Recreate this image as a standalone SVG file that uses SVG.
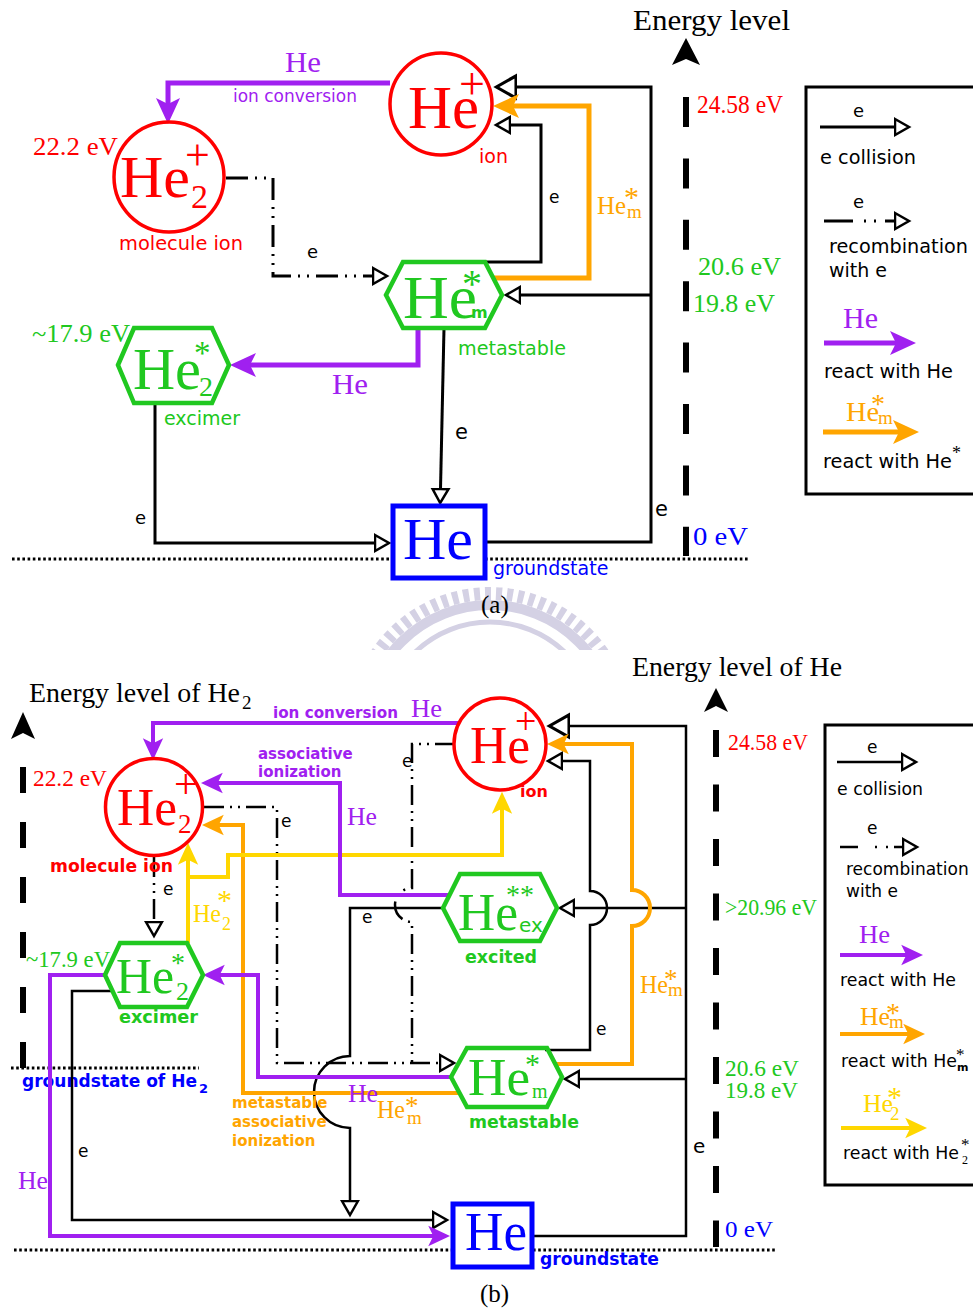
<svg xmlns="http://www.w3.org/2000/svg" width="973" height="1310" viewBox="0 0 973 1310">
<style>
.s{font-family:"Liberation Serif","Times New Roman",serif}
.d{font-family:"DejaVu Sans","Liberation Sans",sans-serif}
.b{font-weight:bold}
.red{fill:#ff0000}.grn{fill:#20c820}.blu{fill:#0000ff}.pur{fill:#a020f0}.org{fill:#ffa500}.yel{fill:#ffd700}.blk{fill:#000}
.k{fill:none;stroke:#000;stroke-width:3}
.kb{fill:none;stroke:#000;stroke-width:2.5}
.kd{fill:none;stroke:#000;stroke-width:3;stroke-dasharray:22 7 2 7 2 7}
.kbd{fill:none;stroke:#000;stroke-width:2.5;stroke-dasharray:20 6 2 6 2 6}
.pu{fill:none;stroke:#a020f0;stroke-width:5}
.or{fill:none;stroke:#ffa500;stroke-width:5}
.pub{fill:none;stroke:#a020f0;stroke-width:4}
.orb{fill:none;stroke:#ffa500;stroke-width:4}
.yeb{fill:none;stroke:#ffd700;stroke-width:4}
.hexg{fill:none;stroke:#20c820;stroke-width:4.5}
.cir{fill:none;stroke:#ff0000;stroke-width:3.5}
.sq{fill:none;stroke:#0000ff;stroke-width:5}
.dot{fill:none;stroke:#000;stroke-width:3;stroke-dasharray:2.6 2.6}
.axis{fill:none;stroke:#000;stroke-width:6}
.box{fill:none;stroke:#000;stroke-width:3}
</style>
<defs>
<clipPath id="wmclip"><rect x="0" y="580" width="973" height="70"/></clipPath>
<marker id="ot" viewBox="0 0 20 20" refX="1" refY="10" markerWidth="20" markerHeight="20" markerUnits="userSpaceOnUse" orient="auto">
<path d="M1,2 L15,10 L1,18 Z" fill="#fff" stroke="#000" stroke-width="2.5"/>
</marker>
<marker id="otB" viewBox="0 0 20 20" refX="1" refY="10" markerWidth="28" markerHeight="28" markerUnits="userSpaceOnUse" orient="auto">
<path d="M1,2 L15,10 L1,18 Z" fill="#fff" stroke="#000" stroke-width="2.2"/>
</marker>
<marker id="mpa" viewBox="0 0 26 26" refX="8" refY="13" markerWidth="26" markerHeight="26" markerUnits="userSpaceOnUse" orient="auto">
<path d="M26,13 L0,1 L6,13 L0,25 Z" fill="#a020f0"/>
</marker>
<marker id="moa" viewBox="0 0 26 26" refX="8" refY="13" markerWidth="26" markerHeight="26" markerUnits="userSpaceOnUse" orient="auto">
<path d="M26,13 L0,1 L6,13 L0,25 Z" fill="#ffa500"/>
</marker>
<marker id="mpb" viewBox="0 0 26 26" refX="8" refY="13" markerWidth="22" markerHeight="22" markerUnits="userSpaceOnUse" orient="auto">
<path d="M26,13 L0,1 L6,13 L0,25 Z" fill="#a020f0"/>
</marker>
<marker id="mob" viewBox="0 0 26 26" refX="8" refY="13" markerWidth="22" markerHeight="22" markerUnits="userSpaceOnUse" orient="auto">
<path d="M26,13 L0,1 L6,13 L0,25 Z" fill="#ffa500"/>
</marker>
<marker id="myb" viewBox="0 0 26 26" refX="8" refY="13" markerWidth="22" markerHeight="22" markerUnits="userSpaceOnUse" orient="auto">
<path d="M26,13 L0,1 L6,13 L0,25 Z" fill="#ffd700"/>
</marker>
</defs>
<rect x="0" y="0" width="973" height="1310" fill="#fff"/>

<!-- faint watermark -->
<g id="watermark" clip-path="url(#wmclip)" fill="none" stroke="#d4d1e4">
<circle cx="490" cy="730" r="136.5" stroke-width="13" stroke-dasharray="6 5"/>
<circle cx="490" cy="730" r="125" stroke-width="10"/>
<circle cx="490" cy="730" r="108" stroke-width="5"/>
</g>

<!-- ================= (a) ================= -->
<g id="a-axis">
<text class="s blk" x="633" y="30" font-size="29" textLength="157" lengthAdjust="spacingAndGlyphs">Energy level</text>
<path d="M686,38 L672,65 L686,59 L700,65 Z" fill="#000"/>
<line class="axis" x1="686" y1="97" x2="686" y2="556" stroke-dasharray="30 31.4"/>
<text class="s red" x="697" y="113" font-size="25" textLength="86" lengthAdjust="spacingAndGlyphs">24.58 eV</text>
<text class="s grn" x="698" y="275" font-size="25" textLength="83" lengthAdjust="spacingAndGlyphs">20.6 eV</text>
<text class="s grn" x="693" y="312" font-size="25" textLength="82" lengthAdjust="spacingAndGlyphs">19.8 eV</text>
<text class="s blu" x="693" y="545" font-size="26" textLength="55" lengthAdjust="spacingAndGlyphs">0 eV</text>
<path class="dot" d="M12,559 H393 M485,559 H750"/>
<text class="s blk" x="481" y="613" font-size="25">(a)</text>
</g>

<g id="a-connectors">
<path class="k" d="M485,542 H651 V87 H516" marker-end="url(#otB)"/>
<path class="k" d="M651,295 H520" marker-end="url(#ot)"/>
<path class="k" d="M484,262 H541 V125 H510" marker-end="url(#ot)"/>
<path class="or" d="M493,278 H589 V106 H511" marker-end="url(#moa)"/>
<path class="pu" d="M390,83 H168 V106" marker-end="url(#mpa)"/>
<path class="kd" d="M226,178 H273 V276 H373" marker-end="url(#ot)"/>
<path class="k" d="M444,328 L440.5,489" marker-end="url(#ot)"/>
<path class="pu" d="M418,330 V365 H248" marker-end="url(#mpa)"/>
<path class="k" d="M155,403 V543 H375" marker-end="url(#ot)"/>
<text class="s pur" x="285" y="72" font-size="29" textLength="36" lengthAdjust="spacingAndGlyphs">He</text>
<text class="d pur" x="233" y="102" font-size="17" textLength="124" lengthAdjust="spacingAndGlyphs">ion conversion</text>
<text class="d blk" x="307" y="258" font-size="18">e</text>
<text class="d blk" x="549" y="203" font-size="17">e</text>
<text class="s org" x="597" y="214" font-size="26" textLength="29" lengthAdjust="spacingAndGlyphs">He</text>
<text class="s org" x="624" y="207" font-size="30">*</text>
<text class="s org" x="627" y="218" font-size="19">m</text>
<text class="d blk" x="455" y="439" font-size="21">e</text>
<text class="d blk" x="655" y="516" font-size="21">e</text>
<text class="s pur" x="332" y="394" font-size="29" textLength="36" lengthAdjust="spacingAndGlyphs">He</text>
<text class="d blk" x="135" y="524" font-size="18">e</text>
</g>

<g id="a-ion">
<circle class="cir" cx="441" cy="104" r="51"/>
<text class="s red" x="408" y="128" font-size="62" textLength="71" lengthAdjust="spacingAndGlyphs">He</text>
<text class="s red" x="459" y="99" font-size="46">+</text>
<text class="d red" x="479" y="163" font-size="19">ion</text>
</g>

<g id="a-molecule-ion">
<circle class="cir" cx="169" cy="177" r="55"/>
<text class="s red" x="120" y="197" font-size="60" textLength="70" lengthAdjust="spacingAndGlyphs">He</text>
<text class="s red" x="191" y="208" font-size="34">2</text>
<text class="s red" x="185" y="170" font-size="44">+</text>
<text class="d red" x="119" y="250" font-size="19" textLength="124" lengthAdjust="spacingAndGlyphs">molecule ion</text>
<text class="s red" x="33" y="155" font-size="26" textLength="85" lengthAdjust="spacingAndGlyphs">22.2 eV</text>
</g>

<g id="a-metastable">
<polygon class="hexg" points="386,295 403,262 485,262 502,295 485,328 403,328"/>
<text class="s grn" x="403" y="318" font-size="62" textLength="74" lengthAdjust="spacingAndGlyphs">He</text>
<text class="s grn" x="462" y="297" font-size="40">*</text>
<text class="d b grn" x="471" y="318" font-size="16">m</text>
<text class="d grn" x="458" y="355" font-size="19" textLength="108" lengthAdjust="spacingAndGlyphs">metastable</text>
</g>

<g id="a-excimer">
<polygon class="hexg" points="118,365 134,328 212,328 229,365 212,403 134,403"/>
<text class="s grn" x="133" y="389" font-size="60" textLength="68" lengthAdjust="spacingAndGlyphs">He</text>
<text class="s grn" x="194" y="364" font-size="33">*</text>
<text class="s grn" x="199" y="396" font-size="28">2</text>
<text class="d grn" x="164" y="425" font-size="19">excimer</text>
<text class="s grn" x="32" y="342" font-size="25" textLength="98" lengthAdjust="spacingAndGlyphs">~17.9 eV</text>
</g>

<g id="a-groundstate">
<rect class="sq" x="393" y="506" width="92" height="72"/>
<text class="s blu" x="403" y="559" font-size="60" textLength="70" lengthAdjust="spacingAndGlyphs">He</text>
<text class="d blu" x="493" y="575" font-size="19">groundstate</text>
</g>

<g id="a-legend">
<rect class="box" x="806" y="87" width="200" height="407"/>
<text class="d blk" x="853" y="117" font-size="18">e</text>
<path class="k" d="M820,127 H895" marker-end="url(#ot)"/>
<text class="d blk" x="820" y="164" font-size="19" textLength="96" lengthAdjust="spacingAndGlyphs">e collision</text>
<text class="d blk" x="853" y="208" font-size="18">e</text>
<path class="k" d="M824,221 H895" stroke-dasharray="29 11 2 8 2 9 10" marker-end="url(#ot)"/>
<text class="d blk" x="829" y="253" font-size="19" textLength="139" lengthAdjust="spacingAndGlyphs">recombination</text>
<text class="d blk" x="829" y="277" font-size="19">with e</text>
<text class="s pur" x="843" y="328" font-size="29" textLength="35" lengthAdjust="spacingAndGlyphs">He</text>
<path class="pu" d="M824,343 H898" marker-end="url(#mpa)"/>
<text class="d blk" x="824" y="378" font-size="19" textLength="129" lengthAdjust="spacingAndGlyphs">react with He</text>
<text class="s org" x="846" y="421" font-size="27" textLength="33" lengthAdjust="spacingAndGlyphs">He</text>
<text class="s org" x="871" y="413" font-size="28">*</text>
<text class="s org" x="878" y="424" font-size="19">m</text>
<path class="or" d="M823,432 H901" marker-end="url(#moa)"/>
<text class="d blk" x="823" y="468" font-size="19" textLength="129" lengthAdjust="spacingAndGlyphs">react with He</text>
<text class="s blk" x="952" y="459" font-size="18">*</text>
</g>

<!-- ================= (b) ================= -->
<g id="b-axis">
<text class="s blk" x="29" y="702" font-size="28" textLength="211" lengthAdjust="spacingAndGlyphs">Energy level of He</text>
<text class="s blk" x="242" y="709" font-size="19">2</text>
<text class="s blk" x="632" y="676" font-size="28" textLength="210" lengthAdjust="spacingAndGlyphs">Energy level of He</text>
<path d="M23,712 L11,739 L23,733 L35,739 Z" fill="#000"/>
<line class="axis" x1="23" y1="767" x2="23" y2="1068" stroke-dasharray="26 29"/>
<path d="M716,688 L704,712 L716,706 L728,712 Z" fill="#000"/>
<line class="axis" x1="716" y1="730" x2="716" y2="1247" stroke-dasharray="27 27.5"/>
<text class="s red" x="728" y="750" font-size="23" textLength="80" lengthAdjust="spacingAndGlyphs">24.58 eV</text>
<text class="s grn" x="725" y="915" font-size="23" textLength="92" lengthAdjust="spacingAndGlyphs">&gt;20.96 eV</text>
<text class="s grn" x="725" y="1076" font-size="23" textLength="74" lengthAdjust="spacingAndGlyphs">20.6 eV</text>
<text class="s grn" x="725" y="1098" font-size="23" textLength="73" lengthAdjust="spacingAndGlyphs">19.8 eV</text>
<text class="s blu" x="725" y="1237" font-size="24" textLength="48" lengthAdjust="spacingAndGlyphs">0 eV</text>
<path class="dot" d="M14,1250 H452 M533,1250 H775"/>
<path class="dot" d="M11,1068 H199"/>
<text class="d b blu" x="22" y="1087" font-size="17" textLength="175" lengthAdjust="spacingAndGlyphs">groundstate of He</text>
<text class="d b blu" x="199" y="1093" font-size="13">2</text>
<text class="s blk" x="480" y="1302" font-size="25">(b)</text>
</g>

<g id="b-connectors">
<path class="kb" d="M532,1236 H686 V726 H569" marker-end="url(#otB)"/>
<path class="kb" d="M686,908 H574" marker-end="url(#ot)"/>
<path class="kb" d="M686,1079 H579" marker-end="url(#ot)"/>
<path class="kb" d="M545,1050 H590 V925 A17,17 0 0 0 590,891 V761 H562" marker-end="url(#ot)"/>
<path class="kbd" d="M455,744 H412 V888 A17,17 0 0 0 412,922 V1063"/>
<path class="kbd" d="M204,807 H277 V1063 H440" marker-end="url(#ot)"/>
<path class="kbd" d="M154,857 V922" marker-end="url(#ot)"/>
<path class="kb" d="M443,908 H350 V1056 A36,36 0 0 0 350,1128 V1201" marker-end="url(#ot)"/>
<path class="kb" d="M112,991 H72 V1220 H433" marker-end="url(#ot)"/>
<path class="orb" d="M459,1093 H243 V825 H217" marker-end="url(#mob)"/>
<path class="orb" d="M555,1064 H632 V926 A18,18 0 0 0 632,890 V744 H562" marker-end="url(#mob)"/>
<path class="yeb" d="M188,943 V858" marker-end="url(#myb)"/>
<path class="yeb" d="M188,877 H228 V855 H502 V807" marker-end="url(#myb)"/>
<path class="pub" d="M459,723 H153 V745" marker-end="url(#mpb)"/>
<path class="pub" d="M449,895 H340 V783 H216" marker-end="url(#mpb)"/>
<path class="pub" d="M105,975 H50 V1236 H435" marker-end="url(#mpb)"/>
<path class="pub" d="M451,1077 H258 V975 H218" marker-end="url(#mpb)"/>
<text class="d b pur" x="273" y="718" font-size="15" textLength="125" lengthAdjust="spacingAndGlyphs">ion conversion</text>
<text class="s pur" x="411" y="717" font-size="26" textLength="31" lengthAdjust="spacingAndGlyphs">He</text>
<text class="d b pur" x="258" y="759" font-size="15">associative</text>
<text class="d b pur" x="258" y="777" font-size="15">ionization</text>
<text class="s pur" x="347" y="825" font-size="26" textLength="30" lengthAdjust="spacingAndGlyphs">He</text>
<text class="d blk" x="402" y="767" font-size="17">e</text>
<text class="d blk" x="281" y="827" font-size="17">e</text>
<text class="d blk" x="163" y="895" font-size="17">e</text>
<text class="d blk" x="362" y="923" font-size="17">e</text>
<text class="d blk" x="78" y="1157" font-size="17">e</text>
<text class="d blk" x="596" y="1035" font-size="17">e</text>
<text class="d blk" x="693" y="1153" font-size="20">e</text>
<text class="s yel" x="193" y="922" font-size="25" textLength="28" lengthAdjust="spacingAndGlyphs">He</text>
<text class="s yel" x="217" y="910" font-size="30">*</text>
<text class="s yel" x="222" y="930" font-size="18">2</text>
<text class="s org" x="640" y="993" font-size="25" textLength="28" lengthAdjust="spacingAndGlyphs">He</text>
<text class="s org" x="664" y="988" font-size="27">*</text>
<text class="s org" x="668" y="996" font-size="19">m</text>
<text class="s pur" x="348" y="1102" font-size="26" textLength="30" lengthAdjust="spacingAndGlyphs">He</text>
<text class="s org" x="377" y="1118" font-size="25" textLength="28" lengthAdjust="spacingAndGlyphs">He</text>
<text class="s org" x="405" y="1115" font-size="27">*</text>
<text class="s org" x="407" y="1124" font-size="19">m</text>
<text class="d b org" x="232" y="1108" font-size="15">metastable</text>
<text class="d b org" x="232" y="1127" font-size="15">associative</text>
<text class="d b org" x="232" y="1146" font-size="15">ionization</text>
<text class="s pur" x="18" y="1189" font-size="26" textLength="30" lengthAdjust="spacingAndGlyphs">He</text>
</g>

<g id="b-ion">
<circle class="cir" cx="500" cy="744" r="46"/>
<text class="s red" x="470" y="763" font-size="52" textLength="60" lengthAdjust="spacingAndGlyphs">He</text>
<text class="s red" x="515" y="734" font-size="38">+</text>
<text class="d b red" x="520" y="797" font-size="16">ion</text>
</g>

<g id="b-molecule-ion">
<circle class="cir" cx="154" cy="807" r="48.5"/>
<text class="s red" x="117" y="825" font-size="52" textLength="60" lengthAdjust="spacingAndGlyphs">He</text>
<text class="s red" x="178" y="833" font-size="27">2</text>
<text class="s red" x="174" y="798" font-size="42">+</text>
<text class="d b red" x="50" y="872" font-size="17" textLength="123" lengthAdjust="spacingAndGlyphs">molecule ion</text>
<text class="s red" x="33" y="786" font-size="24" textLength="74" lengthAdjust="spacingAndGlyphs">22.2 eV</text>
</g>

<g id="b-excited">
<polygon class="hexg" points="443,908 460,874 540,874 557,908 540,941 460,941" stroke-width="4"/>
<text class="s grn" x="458" y="930" font-size="52" textLength="60" lengthAdjust="spacingAndGlyphs">He</text>
<text class="s grn" x="506" y="904" font-size="28">**</text>
<text class="d grn" x="519" y="932" font-size="20">ex</text>
<text class="d b grn" x="465" y="963" font-size="17" textLength="72" lengthAdjust="spacingAndGlyphs">excited</text>
</g>

<g id="b-metastable">
<polygon class="hexg" points="451,1077 467,1048 547,1048 562,1077 547,1107 467,1107" stroke-width="4"/>
<text class="s grn" x="468" y="1095" font-size="52" textLength="62" lengthAdjust="spacingAndGlyphs">He</text>
<text class="s grn" x="525" y="1074" font-size="30">*</text>
<text class="s grn" x="532" y="1098" font-size="20">m</text>
<text class="d b grn" x="469" y="1128" font-size="17" textLength="110" lengthAdjust="spacingAndGlyphs">metastable</text>
</g>

<g id="b-excimer">
<polygon class="hexg" points="105,975 120,943 187,943 203,975 187,1007 120,1007" stroke-width="4"/>
<text class="s grn" x="116" y="993" font-size="50" textLength="58" lengthAdjust="spacingAndGlyphs">He</text>
<text class="s grn" x="171" y="972" font-size="28">*</text>
<text class="s grn" x="176" y="1000" font-size="26">2</text>
<text class="d b grn" x="119" y="1023" font-size="17" textLength="79" lengthAdjust="spacingAndGlyphs">excimer</text>
<text class="s grn" x="26" y="967" font-size="23" textLength="84" lengthAdjust="spacingAndGlyphs">~17.9 eV</text>
</g>

<g id="b-groundstate">
<rect class="sq" x="453" y="1204" width="79" height="63"/>
<text class="s blu" x="465" y="1250" font-size="54" textLength="62" lengthAdjust="spacingAndGlyphs">He</text>
<text class="d b blu" x="540" y="1265" font-size="17" textLength="119" lengthAdjust="spacingAndGlyphs">groundstate</text>
</g>

<g id="b-legend">
<rect class="box" x="825" y="725" width="200" height="460"/>
<text class="d blk" x="867" y="753" font-size="17">e</text>
<path class="kb" d="M837,762 H902" marker-end="url(#ot)"/>
<text class="d blk" x="837" y="795" font-size="17" textLength="86" lengthAdjust="spacingAndGlyphs">e collision</text>
<text class="d blk" x="867" y="834" font-size="17">e</text>
<path class="kb" d="M840,847 H903" stroke-dasharray="18 17 2 9 2 6 10" marker-end="url(#ot)"/>
<text class="d blk" x="846" y="875" font-size="17">recombination</text>
<text class="d blk" x="846" y="897" font-size="17">with e</text>
<text class="s pur" x="859" y="943" font-size="26" textLength="31" lengthAdjust="spacingAndGlyphs">He</text>
<path class="pub" d="M840,955 H908" marker-end="url(#mpb)"/>
<text class="d blk" x="840" y="986" font-size="17" textLength="116" lengthAdjust="spacingAndGlyphs">react with He</text>
<text class="s org" x="860" y="1025" font-size="26" textLength="30" lengthAdjust="spacingAndGlyphs">He</text>
<text class="s org" x="886" y="1022" font-size="28">*</text>
<text class="s org" x="889" y="1028" font-size="19">m</text>
<path class="orb" d="M840,1034 H910" marker-end="url(#mob)"/>
<text class="d blk" x="841" y="1067" font-size="17" textLength="116" lengthAdjust="spacingAndGlyphs">react with He</text>
<text class="s blk" x="956" y="1060" font-size="17">*</text>
<text class="d b blk" x="957" y="1071" font-size="11">m</text>
<text class="s yel" x="863" y="1112" font-size="26" textLength="30" lengthAdjust="spacingAndGlyphs">He</text>
<text class="s yel" x="887" y="1107" font-size="30">*</text>
<text class="s yel" x="890" y="1120" font-size="19">2</text>
<path class="yeb" d="M841,1128 H912" marker-end="url(#myb)"/>
<text class="d blk" x="843" y="1159" font-size="17" textLength="116" lengthAdjust="spacingAndGlyphs">react with He</text>
<text class="s blk" x="961" y="1150" font-size="17">*</text>
<text class="s blk" x="962" y="1164" font-size="12">2</text>
</g>
</svg>
